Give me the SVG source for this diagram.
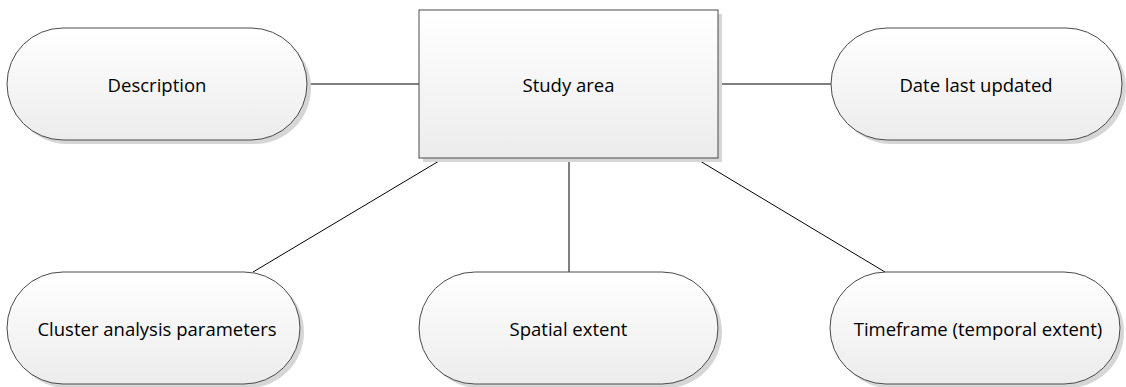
<svg xmlns="http://www.w3.org/2000/svg" width="1126" height="387" viewBox="0 0 1126 387">
<defs>
<linearGradient id="g" x1="0" y1="0" x2="0" y2="1">
<stop offset="0" stop-color="#ffffff"/>
<stop offset="1" stop-color="#ececec"/>
</linearGradient>
<style>
.shape{fill:url(#g);stroke:#4a4a4a;stroke-width:1}
.shadow{fill:#d6d6d6}
.lbl{font-family:"Open Sans","Liberation Sans",sans-serif;font-size:18.5px;fill:#000;text-anchor:middle;dominant-baseline:central}
.conn{stroke:#000;stroke-width:1;fill:none}
</style>
</defs>
<rect width="1126" height="387" fill="#ffffff"/>
<g id="connectors">
<line class="conn" x1="307" y1="84" x2="419" y2="84"/>
<line class="conn" x1="718" y1="84" x2="831" y2="84"/>
<line class="conn" x1="444" y1="158" x2="253" y2="272"/>
<line class="conn" x1="569" y1="158" x2="569" y2="272"/>
<line class="conn" x1="695" y1="158" x2="885" y2="272"/>
</g>
<g id="study-area">
<rect class="shadow" x="423" y="14" width="299" height="148"/>
<rect class="shape" x="419" y="10" width="299" height="148"/>
<text class="lbl" x="568.5" y="84">Study area</text>
</g>
<g id="description">
<rect class="shadow" x="11" y="32" width="300" height="112" rx="56"/>
<rect class="shape" x="7" y="28" width="300" height="112" rx="56"/>
<text class="lbl" x="157" y="84">Description</text>
</g>
<g id="date-last-updated">
<rect class="shadow" x="835" y="32" width="291" height="112" rx="56"/>
<rect class="shape" x="831" y="28" width="291" height="112" rx="56"/>
<text class="lbl" x="976" y="84">Date last updated</text>
</g>
<g id="cluster-analysis-parameters">
<rect class="shadow" x="11" y="276" width="293" height="112" rx="56"/>
<rect class="shape" x="7" y="272" width="293" height="112" rx="56"/>
<text class="lbl" x="157" y="328">Cluster analysis parameters</text>
</g>
<g id="spatial-extent">
<rect class="shadow" x="423" y="276" width="299" height="112" rx="56"/>
<rect class="shape" x="419" y="272" width="299" height="112" rx="56"/>
<text class="lbl" x="568.5" y="328">Spatial extent</text>
</g>
<g id="timeframe">
<rect class="shadow" x="834" y="276" width="290" height="112" rx="56"/>
<rect class="shape" x="830" y="272" width="290" height="112" rx="56"/>
<text class="lbl" x="978" y="328">Timeframe (temporal extent)</text>
</g>
</svg>
